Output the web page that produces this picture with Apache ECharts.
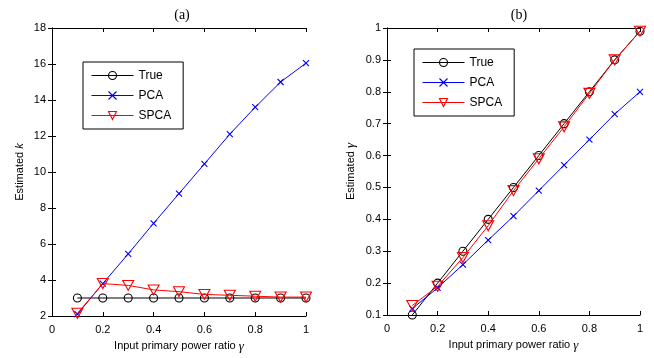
<!DOCTYPE html>
<html><head><meta charset="utf-8">
<script src="https://cdn.jsdelivr.net/npm/echarts@6/dist/echarts.min.js"></script>
<style>html,body{margin:0;padding:0;background:#fff}#c{width:654px;height:358px}</style>
</head><body><div id="c"></div>
<script>
const gammaX = [0.1,0.2,0.3,0.4,0.5,0.6,0.7,0.8,0.9,1.0];
const kTrue = [3,3,3,3,3,3,3,3,3,3];
const kPCA  = [2.1,3.8,5.45,7.15,8.8,10.45,12.1,13.6,15.0,16.05];
const kSPCA = [2.15,3.8,3.7,3.45,3.35,3.2,3.15,3.1,3.05,3.05];
const gTrue = [0.1,0.2,0.3,0.4,0.5,0.6,0.7,0.8,0.9,0.99];
const gPCA  = [0.12,0.185,0.258,0.335,0.41,0.49,0.57,0.65,0.73,0.80];
const gSPCA = [0.13,0.19,0.28,0.38,0.49,0.59,0.69,0.795,0.90,0.99];
const seriesNames = ['True','PCA','SPCA'];
const titles = ['(a)','(b)'];

const pair = (xs, ys) => xs.map((x,i)=>[x,ys[i]]);
const chart = echarts.init(document.getElementById('c'));
const axFont = {fontFamily:'Liberation Sans, Arial', fontSize:11, color:'#000'};
const crossSym = 'path://M0,0L10,10M10,0L0,10';
const triSym = 'path://M0,0L10,0L5,9Z';
const circSym = 'path://M10,5A5,5,0,1,1,0,5A5,5,0,1,1,10,5Z';
const styleOf = {
  'True': {color:'#000000', symbol:circSym, size:8, z:2},
  'PCA':  {color:'#0000ff', symbol:crossSym, size:6, z:3},
  'SPCA': {color:'#ff0000', symbol:triSym, size:[11,10], z:4}
};

function mkSeries(data, name, gi){
  const s = styleOf[name];
  return {type:'line', name, xAxisIndex:gi*2, yAxisIndex:gi*2, data, animation:false, z:s.z,
    symbol:s.symbol, symbolSize:s.size, lineStyle:{color:s.color,width:1},
    itemStyle:{color:'none', borderColor:s.color, borderWidth:1.1}};
}

const grids = [{left:52, top:28, width:254, height:288},{left:387, top:28, width:253, height:287}];
const xAxes=[], yAxes=[];
[0,1].forEach(gi=>{
  const xName = {name:'{t|Input primary power ratio }{g|γ}', nameLocation:'middle', nameGap:20,
    nameTextStyle:{rich:{t:{fontFamily:'Liberation Sans, Arial',fontSize:11,color:'#000'}, g:{fontFamily:'Liberation Serif, Times New Roman',fontStyle:'italic',fontSize:13,color:'#000'}}}};
  xAxes.push(Object.assign({type:'value', gridIndex:gi, min:0, max:1, interval:0.2, position:'bottom',
    axisLine:{lineStyle:{color:'#000'}}, axisTick:{inside:true, length:4, lineStyle:{color:'#000'}},
    axisLabel:Object.assign({margin:8, formatter:v=>String(+v.toFixed(1))},axFont), splitLine:{show:false}}, xName));
  xAxes.push({type:'value', gridIndex:gi, min:0, max:1, interval:0.2, position:'top',
    axisLine:{lineStyle:{color:'#000'}}, axisTick:{inside:true, length:4, lineStyle:{color:'#000'}},
    axisLabel:{show:false}, splitLine:{show:false}});
  const yName = gi===0 ? '{t|Estimated }{k|k}' : '{t|Estimated }{k|γ}';
  const yOpt = gi===0 ? {min:2,max:18,interval:2} : {min:0.1,max:1,interval:0.1};
  yAxes.push(Object.assign({type:'value', gridIndex:gi, position:'left', name:yName, nameLocation:'middle', nameGap:gi===0?27:30,
    nameTextStyle:{rich:{t:{fontFamily:'Liberation Sans, Arial',fontSize:11,color:'#000'}, k:{fontFamily:gi===0?'Liberation Sans, Arial':'Liberation Serif, Times New Roman',fontStyle:'italic',fontSize:gi===0?11:13,color:'#000'}}},
    axisLine:{lineStyle:{color:'#000'}}, axisTick:{inside:true, length:4, lineStyle:{color:'#000'}},
    axisLabel:Object.assign({margin:6, formatter:v=>String(+v.toFixed(1))},axFont), splitLine:{show:false}}, yOpt));
  yAxes.push(Object.assign({type:'value', gridIndex:gi, position:'right',
    axisLine:{lineStyle:{color:'#000'}}, axisTick:{inside:true, length:4, lineStyle:{color:'#000'}},
    axisLabel:{show:false}, splitLine:{show:false}}, yOpt));
});

const series = [
  mkSeries(pair(gammaX,kTrue),'True',0), mkSeries(pair(gammaX,kPCA),'PCA',0), mkSeries(pair(gammaX,kSPCA),'SPCA',0),
  mkSeries(pair(gammaX,gTrue),'True',1), mkSeries(pair(gammaX,gPCA),'PCA',1), mkSeries(pair(gammaX,gSPCA),'SPCA',1)
];

const legendData = seriesNames.map(n=>({name:n,
  itemStyle:{color:'none', borderColor:styleOf[n].color, borderWidth:1.1},
  lineStyle:{color:styleOf[n].color, width:1}}));
const legendCommon = {orient:'vertical', data:legendData, itemWidth:42, itemHeight:10, itemGap:7,
  backgroundColor:'#fff', borderColor:'#000', borderWidth:1, padding:[7,12,7,8], borderRadius:0,
  textStyle:{fontFamily:'Liberation Sans, Arial', fontSize:12, color:'#000'}, selectedMode:false};

chart.setOption({
  animation:false,
  title: [
    {text:titles[0], left:177, top:3, textAlign:'center', textStyle:{fontFamily:'Liberation Serif, Times New Roman', fontSize:14, fontWeight:'normal', color:'#000'}},
    {text:titles[1], left:514, top:3, textAlign:'center', textStyle:{fontFamily:'Liberation Serif, Times New Roman', fontSize:14, fontWeight:'normal', color:'#000'}}
  ],
  grid: grids,
  xAxis: xAxes, yAxis: yAxes,
  legend: [Object.assign({left:83, top:62}, legendCommon), Object.assign({left:414, top:49}, legendCommon)],
  series
});
</script></body></html>
